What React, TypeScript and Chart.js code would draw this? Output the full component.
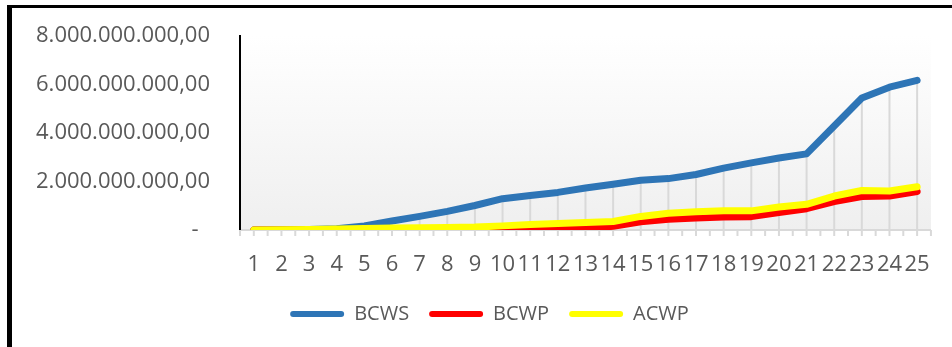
import React, { useEffect, useRef } from "react";
import { Chart, registerables } from "chart.js";

Chart.register(...registerables);

const categories = ["1","2","3","4","5","6","7","8","9","10","11","12","13","14","15","16","17","18","19","20","21","22","23","24","25"];
const bcws = [0, 0.01e9, 0.02e9, 0.05e9, 0.17e9, 0.37e9, 0.56e9, 0.77e9, 1.01e9, 1.29e9, 1.42e9, 1.55e9, 1.73e9, 1.89e9, 2.05e9, 2.12e9, 2.29e9, 2.55e9, 2.77e9, 2.97e9, 3.14e9, 4.29e9, 5.44e9, 5.89e9, 6.17e9];
const bcwp = [0, 0, 0, 0, 0, 0, 0, 0, 0, 0.02e9, 0.03e9, 0.05e9, 0.08e9, 0.15e9, 0.34e9, 0.44e9, 0.49e9, 0.54e9, 0.55e9, 0.72e9, 0.88e9, 1.17e9, 1.38e9, 1.4e9, 1.59e9];
const acwp = [0, 0.01e9, 0.02e9, 0.04e9, 0.06e9, 0.08e9, 0.09e9, 0.1e9, 0.12e9, 0.17e9, 0.23e9, 0.27e9, 0.31e9, 0.35e9, 0.56e9, 0.69e9, 0.75e9, 0.79e9, 0.79e9, 0.95e9, 1.06e9, 1.4e9, 1.63e9, 1.61e9, 1.78e9];
const seriesNames = ["BCWS", "BCWP", "ACWP"];
const seriesColors = ["#2e75b6", "#ff0000", "#ffff00"];
const yMax = 8e9;
const yStep = 2e9;

const FONT = "'Open Sans', 'DejaVu Sans', sans-serif";
const TEXT = "#595959";

function formatValue(v: number): string {
  if (v === 0) return "-  ";
  const s = Math.round(v).toString().replace(/\B(?=(\d{3})+(?!\d))/g, ".");
  return s + ",00";
}

const bgPlugin = {
  id: "bgGradient",
  beforeDraw(chart: any) {
    const { ctx, chartArea } = chart;
    const g = ctx.createLinearGradient(0, chartArea.top, 0, chartArea.bottom);
    g.addColorStop(0, "#ffffff");
    g.addColorStop(1, "#efefef");
    ctx.save();
    ctx.fillStyle = g;
    ctx.fillRect(chartArea.left, chartArea.top, chartArea.right - chartArea.left, chartArea.bottom - chartArea.top);
    ctx.restore();
  },
};

const dropLinePlugin = {
  id: "dropLines",
  beforeDatasetsDraw(chart: any) {
    const { ctx, chartArea, scales } = chart;
    const xs = scales.x;
    const ys = scales.y;
    ctx.save();
    ctx.strokeStyle = "#d9d9d9";
    ctx.lineWidth = 2;
    for (let i = 0; i < categories.length; i++) {
      const maxV = Math.max(bcws[i], bcwp[i], acwp[i]);
      const x = xs.getPixelForValue(i);
      const y = ys.getPixelForValue(maxV);
      ctx.beginPath();
      ctx.moveTo(x, y);
      ctx.lineTo(x, chartArea.bottom);
      ctx.stroke();
    }
    const n = categories.length * 2;
    const w = chartArea.right - chartArea.left;
    for (let k = 0; k <= n; k++) {
      const x = chartArea.left + (k * w) / n;
      ctx.beginPath();
      ctx.moveTo(x, chartArea.bottom);
      ctx.lineTo(x, chartArea.bottom + 6);
      ctx.stroke();
    }
    ctx.restore();
  },
};

export default function App() {
  const ref = useRef<HTMLCanvasElement | null>(null);

  useEffect(() => {
    if (!ref.current) return;
    const data = [bcws, bcwp, acwp];
    const chart = new Chart(ref.current, {
      type: "line",
      data: {
        labels: categories,
        datasets: seriesNames.map((name, i) => ({
          label: name,
          data: data[i],
          borderColor: seriesColors[i],
          backgroundColor: seriesColors[i],
          borderWidth: 7,
          borderCapStyle: "round" as const,
          borderJoinStyle: "round" as const,
          pointRadius: 0,
          tension: 0,
          fill: false,
          order: 3 - i,
        })),
      },
      options: {
        animation: false,
        responsive: false,
        maintainAspectRatio: false,
        layout: { padding: { left: 42, right: 15, top: 36, bottom: 13 } },
        plugins: {
          tooltip: { enabled: false },
          legend: {
            position: "bottom",
            labels: {
              boxWidth: 54,
              boxHeight: 6,
              padding: 20,
              color: TEXT,
              font: { family: FONT, size: 20 },
              useBorderRadius: true,
              borderRadius: 3,
              generateLabels: (ch: any) =>
                ch.data.datasets.map((ds: any, i: number) => ({
                  text: ds.label,
                  fillStyle: ds.borderColor,
                  strokeStyle: ds.borderColor,
                  lineWidth: 0,
                  fontColor: TEXT,
                  hidden: false,
                  datasetIndex: i,
                  borderRadius: 3,
                })),
            },
          },
        },
        scales: {
          x: {
            offset: true,
            grid: { display: false, drawTicks: false },
            border: { display: true, color: "#d9d9d9", width: 2 },
            ticks: {
              color: TEXT,
              font: { family: FONT, size: 22 },
              padding: 22,
              maxRotation: 0,
              autoSkip: false,
            },
            afterFit: (s: any) => { s.height = 54; },
          },
          y: {
            min: 0,
            max: yMax,
            grid: { display: false, drawTicks: false },
            border: { display: true, color: "#000000", width: 2 },
            ticks: {
              stepSize: yStep,
              color: TEXT,
              font: { family: FONT, size: 22 },
              padding: 30,
              callback: (v: any) => formatValue(Number(v)),
            },
            afterFit: (s: any) => {
              s.width = 198;
              s.paddingTop = 0;
              s.paddingBottom = 0;
              s._computeLabelArea = () => undefined;
            },
          },
        },
      },
      plugins: [bgPlugin, dropLinePlugin],
    });
    return () => chart.destroy();
  }, []);

  return (
    <div style={{ position: "fixed", left: 0, top: 0, width: 952, height: 347, background: "#ffffff", overflow: "hidden" }}>
      <div style={{ position: "absolute", left: 7, top: 5, width: 1000, height: 400, borderLeft: "5px solid #000", borderTop: "3px solid #000" }} />
      <canvas ref={ref} width={952} height={347} style={{ position: "absolute", left: 0, top: 0, width: 952, height: 347 }} />
    </div>
  );
}
